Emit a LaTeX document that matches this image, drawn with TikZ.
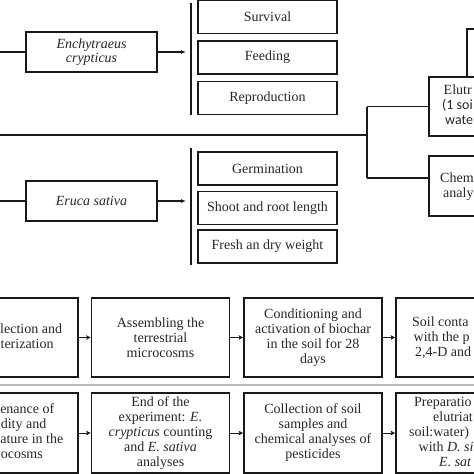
\documentclass[tikz,border=0pt]{standalone}
\usepackage{fontspec}
\setmainfont{Liberation Serif}
\newfontfamily\calib{Carlito}
\usetikzlibrary{arrows.meta}
\begin{document}
\begin{tikzpicture}[x=1pt,y=-1pt,
 txt/.style={font=\fontsize{14}{15}\selectfont, text=black!85},
 box/.style={draw=black!90, line width=1.2pt, inner sep=0pt, align=center, txt},
 sbox/.style={box, minimum width=139pt, minimum height=33pt},
 obox/.style={box, minimum width=131pt, minimum height=40pt, font=\fontsize{14}{14.5}\selectfont\itshape},
 rbox/.style={box, minimum width=76pt, minimum height=59pt},
 bbox/.style={box, line width=1.6pt, minimum width=138pt, minimum height=79pt},
 ln/.style={line width=1.2pt, draw=black!90},
 bar/.style={line width=1.5pt, draw=black!90},
 arr/.style={ln, -{Latex[length=5pt,width=4pt]}},
 sarr/.style={line width=1pt, draw=black!90, -{Stealth[length=4.5pt,width=4.5pt,inset=1pt]}},
 lbl/.style={txt, inner sep=0pt}
]
\useasboundingbox (0,0) rectangle (474,474);
\clip (0,0) rectangle (474,474);

% ---------- upper part ----------
\node[obox] (ench) at (91.5,52) {Enchytraeus\\crypticus};
\node[obox] (eru) at (91.5,201) {Eruca sativa};

\coordinate (inA) at (0,52);
\coordinate (inB) at (0,201);
\coordinate (inC) at (0,135);
\draw[ln] (inA) -- (ench.west);
\draw[ln] (inB) -- (eru.west);

\draw[bar] (191,3) -- (191,115);
\draw[bar] (191,148) -- (191,265);
\coordinate (tA) at (186,52);
\coordinate (tB) at (186,201);
\draw[arr] (ench.east) -- (tA);
\draw[arr] (eru.east) -- (tB);

\node[sbox] (surv) at (267.5,17) {Survival};
\node[sbox] (feed) at (267.5,57.5) {Feeding};
\node[sbox] (repr) at (267.5,98) {Reproduction};
\node[sbox] (germ) at (267.5,168.5) {Germination};
\node[sbox] (shoot) at (267.5,208) {Shoot and root length};
\node[sbox] (fresh) at (267.5,246.5) {Fresh an dry weight};

% right branch
\node[rbox] (elu) at (467,106.5) {};
\node[rbox, minimum height=60pt] (chem) at (467,186) {};
\coordinate (jc) at (367,135);
\coordinate (jt) at (367,106.5);
\coordinate (jb) at (367,178);
\coordinate (up) at (480,29);
\draw[ln] (inC) -- (jc);
\draw[ln] (jt) -- (jb);
\draw[ln] (jt) -- (elu.west);
\draw[ln] (jb) -- (jb -| chem.west);
\draw[ln] (elu.north) |- (up);

\node[lbl, anchor=base west] (e1) at (443.5,94.6) {Elutr};
\node[lbl, anchor=base west] (e2) at (442,109.6) {\calib (1 soi};
\node[lbl, anchor=base west] (e3) at (445,124.6) {\calib wate};
\node[lbl, anchor=base west] (h1) at (440,182) {Chem};
\node[lbl, anchor=base west] (h2) at (443,197) {analy};

% ---------- lower part ----------
\draw[gray!55, line width=1.3pt] (0,385) -- (474,385);

\node[bbox] (b1) at (9,337.5) {};
\node[bbox] (b2) at (160.5,337.5) {Assembling the\\terrestrial\\microcosms};
\node[bbox] (b3) at (313,337.5) {Conditioning and\\activation of biochar\\in the soil for 28\\days};
\node[bbox] (b4) at (465,337.5) {};

\node[bbox, minimum height=80pt] (c1) at (9,433) {};
\node[bbox, minimum height=80pt] (c2) at (160.5,433) {End of the\\experiment: \textit{E.}\\\textit{crypticus} counting\\and \textit{E. sativa}\\analyses};
\node[bbox, minimum height=80pt] (c3) at (313,433) {Collection of soil\\samples and\\chemical analyses of\\pesticides};
\node[bbox, minimum height=80pt] (c4) at (465,433) {};

\draw[sarr] (b1.east) -- (b2.west);
\draw[sarr] (b2.east) -- (b3.west);
\draw[sarr] (b3.east) -- (b4.west);
\draw[sarr] (c1.east) -- (c2.west);
\draw[sarr] (c2.east) -- (c3.west);
\draw[sarr] (c3.east) -- (c4.west);

% partly visible texts
\node[lbl, anchor=base east] (t11) at (62.2,333) {lection and};
\node[lbl, anchor=base east] (t12) at (53.7,348) {terization};
\node[lbl, anchor=base east] (t21) at (54.5,413.6) {enance of};
\node[lbl, anchor=base east] (t22) at (46.5,428.6) {dity and};
\node[lbl, anchor=base east] (t23) at (63.5,443.6) {ature in the};
\node[lbl, anchor=base east] (t24) at (43,458.6) {ocosms};

\node[lbl, anchor=base west] (s1) at (411.9,326) {Soil conta};
\node[lbl, anchor=base west] (s2) at (413.5,341) {with the p};
\node[lbl, anchor=base west] (s3) at (415,356) {2,4-D and};

\node[lbl, anchor=base west] (p1) at (414,406) {Preparatio};
\node[lbl, anchor=base west] (p2) at (433,421) {elutriat};
\node[lbl, anchor=base west] (p3) at (409,436) {soil:water)};
\node[lbl, anchor=base west] (p4) at (418.5,451) {with \textit{D. si}};
\node[lbl, anchor=base west] (p5) at (439,466) {\textit{E. sat}};
\end{tikzpicture}
\end{document}
